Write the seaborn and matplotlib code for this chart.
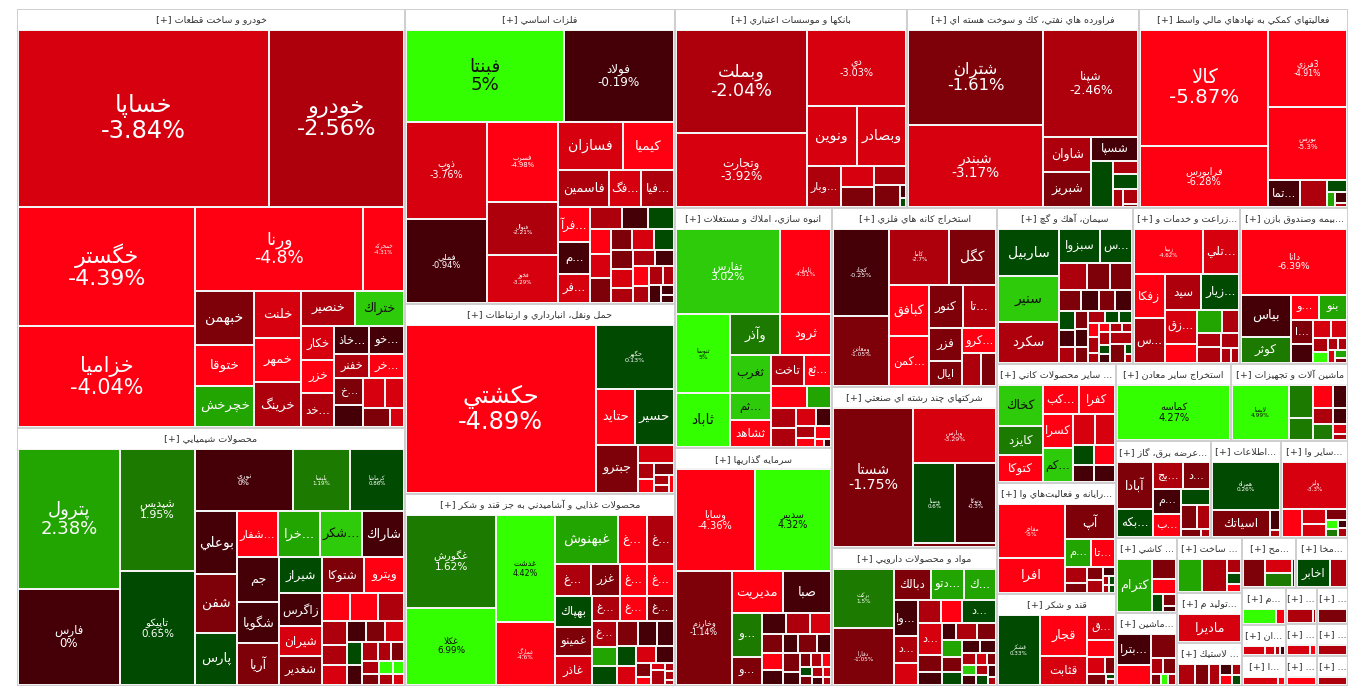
import re
import numpy as np
import matplotlib
matplotlib.use("Agg")
import matplotlib.pyplot as plt
from matplotlib.patches import Rectangle
import seaborn as sns

# ---------------- data: (نماد, اندازه بازار ~ مساحت, درصد تغيير) ----------------
khodro = [("خساپا", 44.0, -3.84), ("خودرو", 23.6, -2.56), ("خگستر", 21.0, -4.39), ("خزاميا", 17.7, -4.04),
          ("ورنا", 14.1, -4.8), ("خمحركه", 3.4, -4.31), ("خبهمن", 3.1, -1.52), ("ختوقا", 2.4, -4.6),
          ("خچرخش", 2.4, 2.6), ("خلنت", 2.2, -3.5), ("خمهر", 2.1, -4.4), ("خرينگ", 2.1, -2.4),
          ("خنصير", 1.86, -2.8), ("ختراك", 1.7, 3.6), ("خكار", 1.1, -3.4), ("خزر", 1.1, -4.5),
          ("خد...", 1.1, -2.7), ("خاذ...", 0.95, -0.6), ("خو...", 0.95, -0.4), ("خفنر", 0.85, -2.6),
          ("خر...", 0.85, -4.5), ("خ...", 0.76, -1.5), ("", 0.64, -0.5), ("", 0.62, -3.4),
          ("", 0.55, -3.4), ("", 0.51, -1.6), ("", 0.27, -3.5)]
shimi = [("پترول", 14.5, 2.38), ("فارس", 9.9, 0.0), ("شپديس", 9.3, 1.95), ("تاپيكو", 8.7, 0.65),
         ("نوري", 6.2, 0.0), ("پليسا", 3.65, 1.19), ("كرماشا", 3.4, 0.86), ("بوعلي", 2.67, -0.5),
         ("شفن", 2.54, -1.5), ("پارس", 2.24, 0.5), ("شفار...", 1.88, -4.5), ("خرا...", 1.97, 2.5),
         ("شكر...", 1.97, 3.6), ("شاراك", 1.93, -0.5), ("جم", 1.89, -0.5), ("شگويا", 1.76, -0.6),
         ("آريا", 1.76, -1.5), ("شيراز", 1.59, 0.5), ("شتوكا", 1.52, -1.5), ("ويترو", 1.48, -4.5),
         ("زاگرس", 1.42, -0.5), ("شيران", 1.33, -3.5), ("شغدير", 1.25, -1.5), ("", 0.78, -4.5),
         ("", 0.81, -4.5), ("", 0.73, -2.5), ("", 0.6, -2.5), ("", 0.52, -2.5), ("", 0.52, -3.2),
         ("", 0.4, -0.5), ("", 0.4, -1.5), ("", 0.4, -3.4), ("", 0.33, 0.5), ("", 0.3, -0.5),
         ("", 0.3, -2.5), ("", 0.26, -2.6), ("", 0.24, -1.5), ("", 0.22, -2.6), ("", 0.2, -1.5),
         ("", 0.18, 4.6), ("", 0.16, -2.6), ("", 0.15, 4.6), ("", 0.12, -3.3)]
felezat = [("فبنتا", 14.0, 5.0), ("فولاد", 9.8, -0.19), ("ذوب", 7.6, -3.76), ("فملي", 6.6, -0.94),
           ("فسرب", 5.6, -4.98), ("فنوال", 3.7, -2.21), ("فخوز", 3.3, -3.29), ("فسازان", 3.05, -3.4),
           ("كيميا", 2.4, -4.5), ("فاسمين", 1.8, -2.6), ("فگ...", 1.16, -3.5), ("فيا...", 1.16, -2.6),
           ("فرآ...", 1.05, -4.5), ("م...", 1.0, -0.5), ("فر...", 0.87, -3.2), ("", 0.68, -2.6),
           ("", 0.56, -0.6), ("", 0.54, 0.5), ("", 0.5, -4.5), ("", 0.5, -3.4), ("", 0.5, -1.5),
           ("", 0.45, -1.5), ("", 0.44, -3.4), ("", 0.42, 0.5), ("", 0.42, -1.5), ("", 0.4, -3.4),
           ("", 0.34, -2.6), ("", 0.34, -2.6), ("", 0.3, -0.5), ("", 0.3, -4.5), ("", 0.27, -2.6),
           ("", 0.25, -2.6), ("", 0.2, -2.6), ("", 0.2, -0.5), ("", 0.12, -0.5), ("", 0.1, -0.5)]
haml = [("حكشتي", 31.4, -4.89), ("حگهر", 4.9, 0.13), ("حتايد", 2.2, -4.5), ("حسير", 2.15, 0.5),
        ("جبترو", 2.0, -1.5), ("", 0.63, -3.4), ("", 0.27, -2.6), ("", 0.22, -4.5), ("", 0.24, -1.5),
        ("", 0.15, -2.6), ("", 0.12, -2.6), ("", 0.08, -4.5)]
ghaza = [("غگورش", 7.9, 1.62), ("غكلا", 6.6, 6.99), ("غدشت", 5.9, 4.42), ("غمارگ", 3.5, -4.6),
         ("غبهنوش", 2.9, 2.5), ("غ...", 1.35, -4.5), ("غ...", 1.25, -2.6), ("غ...", 1.1, -2.6),
         ("غزر", 0.9, -1.5), ("غ...", 0.82, -4.5), ("غ...", 0.82, -4.5), ("بهپاك", 1.08, 0.5),
         ("غمينو", 1.04, -1.5), ("غاذر", 1.0, -3.4), ("غ...", 0.67, -2.6), ("غ...", 0.65, -4.5),
         ("غ...", 0.65, -1.5), ("غ...", 0.63, -2.6), ("", 0.45, 2.5), ("", 0.47, 0.5), ("", 0.48, -1.5),
         ("", 0.46, -0.5), ("", 0.4, -0.5), ("", 0.36, 0.5), ("", 0.34, -3.4), ("", 0.31, -3.4),
         ("", 0.27, -0.5), ("", 0.2, -1.5), ("", 0.12, -4.5), ("", 0.1, -3.4), ("", 0.2, -2.6),
         ("", 0.07, -2.6), ("", 0.07, -2.6), ("", 0.04, -2.6)]
bank = [("وبملت", 13.2, -2.04), ("وتجارت", 9.4, -3.92), ("دي", 7.4, -3.03), ("ونوين", 2.95, -3.4),
        ("وبصادر", 2.85, -3.4), ("وبار...", 1.4, -2.6), ("", 0.7, -3.4), ("", 0.63, -1.5),
        ("", 0.6, -2.6), ("", 0.55, -1.5), ("", 0.08, -0.5), ("", 0.06, 0.5)]
naft = [("شتران", 12.6, -1.61), ("شبندر", 10.9, -3.17), ("شپنا", 9.9, -2.46), ("شاوان", 1.65, -2.6),
        ("شبريز", 1.65, -1.5), ("شسپا", 1.13, -0.5), ("", 0.97, 0.5), ("", 0.33, -2.6),
        ("", 0.35, 0.5), ("", 0.19, -2.6), ("", 0.22, -2.6), ("", 0.05, -1.5)]
mali = [("كالا", 14.3, -5.87), ("فرابورس", 7.6, -6.28), ("فرزي3", 5.9, -4.91), ("بورس", 5.5, -5.3),
        ("تما...", 0.85, -0.5), ("", 0.7, -2.6), ("", 0.25, 0.5), ("", 0.12, 2.5), ("", 0.12, -0.5),
        ("", 0.05, -2.6)]
anbooh = [("تفارس", 8.5, 3.02), ("ثامان", 4.2, -4.51), ("ثنوسا", 4.1, 5.0), ("ثاباد", 2.8, 4.5),
          ("وآذر", 1.95, 1.5), ("ثرود", 2.0, -4.5), ("ثغرب", 1.5, 3.6), ("ثم...", 1.05, 3.6),
          ("ثشاهد", 1.08, -4.3), ("تاخت", 1.0, -2.6), ("ثع...", 0.81, -4.5), ("", 0.75, -4.5),
          ("", 0.5, 2.5), ("", 0.5, -2.6), ("", 0.46, -2.6), ("", 0.34, -3.4), ("", 0.26, -0.5),
          ("", 0.22, -2.6), ("", 0.17, -4.5), ("", 0.2, -4.5), ("", 0.07, -4.5), ("", 0.06, -0.5)]
sarmaye = [("وسايا", 7.6, -4.36), ("سدبير", 7.4, 4.32), ("وخارزم", 6.1, -1.14), ("مديريت", 2.05, -4.5),
           ("صبا", 1.96, -0.5), ("و...", 1.23, 1.8), ("و...", 0.81, -1.3), ("", 0.48, -0.5),
           ("", 0.46, -2.6), ("", 0.42, -3.4), ("", 0.38, -1.5), ("", 0.32, -4.5), ("", 0.3, -0.5),
           ("", 0.27, -0.5), ("", 0.36, -1.5), ("", 0.25, -0.5), ("", 0.3, -1.5), ("", 0.22, -0.5),
           ("", 0.15, -1.5), ("", 0.14, -2.6), ("", 0.12, -4.5), ("", 0.11, 0.5), ("", 0.1, -1.5),
           ("", 0.1, -2.6), ("", 0.08, -0.5), ("", 0.08, -3.4), ("", 0.06, -2.6)]
kane = [("كچاد", 4.7, -0.25), ("ومعادن", 3.8, -1.05), ("كاما", 3.2, -2.7), ("كگل", 2.5, -1.5),
        ("كبافق", 1.95, -4.5), ("كمن...", 1.86, -4.5), ("كنور", 1.42, -1.5), ("تا...", 1.4, -2.6),
        ("فزر", 1.06, -1.5), ("ايال", 0.8, -1.5), ("كرو...", 0.82, -4.5), ("", 0.58, -2.6),
        ("", 0.48, -1.5)]
chand = [("شستا", 10.7, -1.75), ("وپارس", 4.4, -3.29), ("وصنا", 3.2, 0.6), ("وتوكا", 3.1, -0.3),
         ("", 0.3, -1.5)]
darou = [("بركت", 3.1, 1.5), ("دفارا", 3.0, -1.05), ("دبالك", 0.99, -1.5), ("دتو...", 0.88, 2.5),
         ("ك...", 0.86, 2.2), ("وا...", 0.75, -0.5), ("د...", 0.55, -2.6), ("", 0.46, -3.4),
         ("", 0.44, -2.6), ("", 0.42, -4.5), ("د...", 0.67, 0.5), ("د...", 0.67, -3.4), ("", 0.36, -1.5),
         ("", 0.28, -0.5), ("", 0.2, -0.5), ("", 0.3, -2.6), ("", 0.28, -1.5), ("", 0.3, 2.5),
         ("", 0.25, -1.5), ("", 0.22, 0.5), ("", 0.2, -0.5), ("", 0.18, -0.5), ("", 0.15, -2.6),
         ("", 0.12, 3.6), ("", 0.12, -0.5), ("", 0.12, -3.4), ("", 0.1, -1.5), ("", 0.1, -2.6),
         ("", 0.1, 0.5), ("", 0.08, -0.5), ("", 0.06, -2.6)]
siman = [("ساربيل", 2.7, 0.5), ("سنير", 2.6, 3.6), ("سكرد", 2.35, -2.6), ("سبزوا", 1.27, 0.5),
         ("س...", 1.0, 0.5), ("", 0.7, -2.6), ("", 0.6, -1.5), ("", 0.57, -1.5), ("", 0.42, -1.5),
         ("", 0.34, -0.5), ("", 0.32, -1.5), ("", 0.33, -0.5), ("", 0.27, 0.5), ("", 0.25, -0.5),
         ("", 0.23, -2.6), ("", 0.22, -1.5), ("", 0.22, -0.5), ("", 0.2, -1.5), ("", 0.18, -2.6),
         ("", 0.15, 0.5), ("", 0.14, 0.5), ("", 0.14, -4.5), ("", 0.15, -2.6), ("", 0.1, -2.6),
         ("", 0.1, -4.5), ("", 0.1, -2.6), ("", 0.09, -2.6), ("", 0.14, -2.6), ("", 0.1, 0.5),
         ("", 0.1, -0.5), ("", 0.25, -2.6), ("", 0.25, -1.5), ("", 0.07, 0.5), ("", 0.06, -2.6)]
zeraat = [("زبينا", 2.9, -4.62), ("تلي...", 1.5, -3.4), ("زفكا", 1.25, -4.5), ("س...", 1.28, -2.6),
          ("سيد", 1.22, -2.6), ("زيار...", 1.26, 0.5), ("زق...", 1.0, -3.4), ("", 0.57, -4.5),
          ("", 0.55, 2.5), ("", 0.37, -2.6), ("", 0.32, -2.6), ("", 0.35, -2.6), ("", 0.26, -2.6),
          ("", 0.14, -2.6), ("", 0.12, -2.6)]
bime = [("دانا", 6.4, -6.39), ("بياس", 1.9, -0.5), ("كوثر", 1.2, 1.5), ("و...", 0.67, -4.4),
        ("بنو", 0.65, 2.5), ("ا...", 0.5, -1.5), ("", 0.38, -0.5), ("", 0.29, -3.4), ("", 0.27, -3.4),
        ("", 0.2, -2.6), ("", 0.15, 4.6), ("", 0.12, -2.6), ("", 0.1, -2.6), ("", 0.08, -3.4),
        ("", 0.08, 2.5), ("", 0.06, -1.5)]
kani = [("كخاك", 1.75, 3.6), ("كايزد", 1.25, 1.5), ("كتوكا", 1.2, -4.5), ("كب...", 1.0, -4.5),
        ("كفرا", 1.0, -4.5), ("كسرا", 1.0, -4.5), ("كم...", 1.0, 3.6), ("", 0.65, -3.4),
        ("", 0.62, -3.4), ("", 0.4, 0.5), ("", 0.35, -0.5), ("", 0.4, -4.5), ("", 0.35, -0.5)]
rayane = [("مفاخر", 3.4, -5.0), ("افرا", 2.2, -4.5), ("آپ", 1.65, -1.5), ("م...", 0.67, 2.0),
          ("تا...", 0.63, -4.5), ("", 0.32, -2.6), ("", 0.22, -1.5), ("", 0.2, -1.5), ("", 0.2, -2.6),
          ("", 0.1, -0.5), ("", 0.05, -2.6), ("", 0.05, 0.5), ("", 0.05, -2.6), ("", 0.05, 0.5)]
ghand = [("قشكر", 2.7, 0.33), ("قجار", 1.8, -4.5), ("قثابت", 1.3, -3.4), ("ق...", 0.64, -3.4),
         ("", 0.45, -4.5), ("", 0.28, -3.4), ("", 0.15, -1.5), ("", 0.2, -1.5), ("", 0.05, 0.5),
         ("", 0.05, -2.6)]
madan = [("كماسه", 6.1, 4.27)]
mashin = [("لابسا", 2.9, 4.99), ("", 0.74, 1.5), ("", 0.5, 1.5), ("", 0.44, -4.5), ("", 0.3, -0.5),
          ("", 0.3, -2.6), ("", 0.32, 1.5), ("", 0.21, -0.5), ("", 0.12, -3.4), ("", 0.08, -2.6)]
bargh = [("آبادا", 1.5, -1.5), ("بكه...", 0.92, 0.5), ("بج...", 0.7, -2.6), ("د...", 0.65, -1.5),
         ("م...", 0.6, -0.5), ("ب...", 0.57, -4.5), ("", 0.41, 0.5), ("", 0.35, -1.5), ("", 0.27, -2.6),
         ("", 0.15, -1.5), ("", 0.07, -2.6)]
ettelaat = [("همراه", 3.0, 0.26), ("اسياتك", 1.43, -1.5), ("", 0.19, -0.5), ("", 0.07, -2.6)]
vaset = [("وليز", 2.7, -3.3), ("", 0.5, -4.5), ("", 0.32, -3.4), ("", 0.28, -3.4), ("", 0.2, -1.5),
         ("", 0.1, 4.6), ("", 0.08, 1.5), ("", 0.07, -0.5), ("", 0.07, -2.6)]
kashi = [("كترام", 1.8, 2.5), ("", 0.46, -1.5), ("", 0.34, -4.5), ("", 0.19, 0.5), ("", 0.15, -1.5),
         ("", 0.08, -0.5)]
barghi = [("بترا...", 0.99, -0.5), ("", 0.65, -4.5), ("", 0.58, -1.5), ("", 0.2, -2.6), ("", 0.2, -1.5),
          ("", 0.1, -1.5), ("", 0.08, 4.6), ("", 0.08, -2.6)]
felezi = [("", 0.78, 2.5), ("", 0.78, -2.6), ("", 0.2, -2.6), ("", 0.16, 0.5), ("", 0.11, -4.5)]
computer = [("ماديرا", 1.6, -3.4)]
lastik = [("", 0.28, -2.6), ("", 0.22, -1.5), ("", 0.18, -2.6), ("", 0.1, -0.5), ("", 0.1, -4.5),
          ("", 0.08, -2.6), ("", 0.08, 0.5)]
kaghaz = [("", 0.5, -1.5), ("", 0.3, -3.4), ("", 0.3, 1.5), ("", 0.08, -1.5)]
mokhaberat = [("اخابر", 0.86, 0.5), ("", 0.43, -2.6)]
nasaji = [("", 0.45, 4.6), ("", 0.12, -4.5)]
chap = [("", 0.16, -3.4), ("", 0.07, -3.4), ("", 0.04, -2.6), ("", 0.03, -0.5)]
gaz = [("", 0.2, -3.4), ("", 0.04, -4.5)]
hotel = [("", 0.38, -2.6), ("", 0.04, -2.6)]
charm = [("", 0.25, -1.5)]
fanni = [("", 0.17, -3.4), ("", 0.04, -4.5)]
dabbaghi = [("", 0.35, -2.6)]
abi = [("", 0.05, -4.0)]
ertebati = [("", 0.05, -2.6)]

sector_titles = ["خودرو و ساخت قطعات", "محصولات شيميايي", "فلزات اساسي", "حمل ونقل، انبارداري و ارتباطات",
                 "محصولات غذايي و آشاميدني به جز قند و شكر", "بانكها و موسسات اعتباري",
                 "فراورده هاي نفتي، كك و سوخت هسته اي", "فعاليتهاي كمكي به نهادهاي مالي واسط",
                 "انبوه سازي، املاك و مستغلات", "سرمايه گذاريها", "استخراج كانه هاي فلزي",
                 "شركتهاي چند رشته اي صنعتي", "مواد و محصولات دارويي", "سيمان، آهك و گچ",
                 "زراعت و خدمات وابسته", "بيمه وصندوق بازنشستگي به جزتامين اجتماعي",
                 "ساير محصولات كاني غيرفلزي", "رايانه و فعاليت\u200cهاي وابسته به آن", "قند و شكر",
                 "استخراج ساير معادن", "ماشين آلات و تجهيزات", "عرضه برق، گاز، بخاروآب گرم",
                 "اطلاعات و ارتباطات", "ساير واسطه گريهاي مالي", "كاشي و سراميك",
                 "ماشين آلات و دستگاههاي برقي", "ساخت محصولات فلزي",
                 "توليد محصولات كامپيوتري الكترونيكي ونوري", "لاستيك و پلاستيك", "محصولات كاغذي",
                 "مخابرات", "منسوجات", "انتشار، چاپ و تكثير", "استخراج نفت گاز و خدمات جنبي",
                 "هتل و رستوران", "محصولات چرمي", "خدمات فني و مهندسي", "دباغي، پرداخت چرم",
                 "حمل و نقل آبي", "وسايل ارتباطي"]
sector_sizes = [162.6, 100.1, 79.65, 51.3, 51.84, 46.2, 46.2, 41.6, 37.7, 37.4, 29.5, 26.6, 22.8,
                21.2, 16.7, 16.8, 14.2, 13.2, 10.9, 8.9, 9.0, 9.2, 6.8, 6.5, 4.6, 4.45, 3.6, 3.25,
                2.8, 2.7, 2.6, 1.6, 1.33, 1.29, 1.1, 1.1, 1.0, 1.0, 0.95, 0.95]
sector_stocks = [khodro, shimi, felezat, haml, ghaza, bank, naft, mali, anbooh, sarmaye, kane, chand,
                 darou, siman, zeraat, bime, kani, rayane, ghand, madan, mashin, bargh, ettelaat, vaset,
                 kashi, barghi, felezi, computer, lastik, kaghaz, mokhaberat, nasaji, chap, gaz, hotel,
                 charm, fanni, dabbaghi, abi, ertebati]

reds = sns.color_palette(["#440006", "#7e0008", "#ad000c", "#d6000f", "#ff0012"])
greens = sns.color_palette(["#014a01", "#1d7a00", "#23a501", "#2ecb0a", "#33ff00"])

# ---------------- persian shaping (presentation forms) ----------------
FORMS = {
    'ا': ('\uFE8D', '\uFE8E', None, None), 'آ': ('\uFE81', '\uFE82', None, None),
    'أ': ('\uFE83', '\uFE84', None, None), 'ب': ('\uFE8F', '\uFE90', '\uFE91', '\uFE92'),
    'پ': ('\uFB56', '\uFB57', '\uFB58', '\uFB59'), 'ت': ('\uFE95', '\uFE96', '\uFE97', '\uFE98'),
    'ث': ('\uFE99', '\uFE9A', '\uFE9B', '\uFE9C'), 'ج': ('\uFE9D', '\uFE9E', '\uFE9F', '\uFEA0'),
    'چ': ('\uFB7A', '\uFB7B', '\uFB7C', '\uFB7D'), 'ح': ('\uFEA1', '\uFEA2', '\uFEA3', '\uFEA4'),
    'خ': ('\uFEA5', '\uFEA6', '\uFEA7', '\uFEA8'), 'د': ('\uFEA9', '\uFEAA', None, None),
    'ذ': ('\uFEAB', '\uFEAC', None, None), 'ر': ('\uFEAD', '\uFEAE', None, None),
    'ز': ('\uFEAF', '\uFEB0', None, None), 'ژ': ('\uFB8A', '\uFB8B', None, None),
    'س': ('\uFEB1', '\uFEB2', '\uFEB3', '\uFEB4'), 'ش': ('\uFEB5', '\uFEB6', '\uFEB7', '\uFEB8'),
    'ص': ('\uFEB9', '\uFEBA', '\uFEBB', '\uFEBC'), 'ض': ('\uFEBD', '\uFEBE', '\uFEBF', '\uFEC0'),
    'ط': ('\uFEC1', '\uFEC2', '\uFEC3', '\uFEC4'), 'ظ': ('\uFEC5', '\uFEC6', '\uFEC7', '\uFEC8'),
    'ع': ('\uFEC9', '\uFECA', '\uFECB', '\uFECC'), 'غ': ('\uFECD', '\uFECE', '\uFECF', '\uFED0'),
    'ف': ('\uFED1', '\uFED2', '\uFED3', '\uFED4'), 'ق': ('\uFED5', '\uFED6', '\uFED7', '\uFED8'),
    'ك': ('\uFED9', '\uFEDA', '\uFEDB', '\uFEDC'), 'گ': ('\uFB92', '\uFB93', '\uFB94', '\uFB95'),
    'ل': ('\uFEDD', '\uFEDE', '\uFEDF', '\uFEE0'), 'م': ('\uFEE1', '\uFEE2', '\uFEE3', '\uFEE4'),
    'ن': ('\uFEE5', '\uFEE6', '\uFEE7', '\uFEE8'), 'ه': ('\uFEE9', '\uFEEA', '\uFEEB', '\uFEEC'),
    'و': ('\uFEED', '\uFEEE', None, None), 'ي': ('\uFEF1', '\uFEF2', '\uFEF3', '\uFEF4'),
}
LAM_ALEF = {'ا': ('\uFEFB', '\uFEFC'), 'آ': ('\uFEF5', '\uFEF6'), 'أ': ('\uFEF7', '\uFEF8')}


def shape(s):
    out, prev_join, i = [], False, 0
    while i < len(s):
        c = s[i]
        nxt = s[i + 1] if i + 1 < len(s) else ''
        if c == 'ل' and nxt in LAM_ALEF:
            out.append(LAM_ALEF[nxt][1 if prev_join else 0])
            prev_join = False
            i += 2
            continue
        if c not in FORMS:
            if c != '\u200c':
                out.append(c)
            prev_join = False
            i += 1
            continue
        f = FORMS[c]
        dual = f[2] is not None
        join_next = dual and nxt in FORMS
        if prev_join and join_next:
            g = f[3]
        elif prev_join:
            g = f[1]
        elif join_next:
            g = f[2]
        else:
            g = f[0]
        out.append(g)
        prev_join = dual
        i += 1
    return ''.join(out)


LTR = r'[0-9A-Za-z.%+\-\[\]]'


def visual(s):
    out = []
    for run in re.findall(LTR + '+|[^0-9A-Za-z.%+\\-\\[\\]]+', shape(s)):
        if re.match(LTR, run):
            out.append(run)
        else:
            core = run.strip(' ')
            lead = run[:len(run) - len(run.lstrip(' '))]
            trail = run[len(run.rstrip(' ')):]
            out.append(lead + core[::-1] + trail)
    return ''.join(out)


def squarify(vals, x0, y0, x1, y1):
    rects, value, i0, n = [], float(sum(vals)), 0, len(vals)
    while i0 < n:
        dx, dy = x1 - x0, y1 - y0
        i1 = i0 + 1
        s = mn = mx = vals[i0]
        alpha = max(dy / dx, dx / dy) / value
        beta = s * s * alpha
        best = max(mx / beta, beta / mn)
        while i1 < n:
            v = vals[i1]
            s2, mn2, mx2 = s + v, min(mn, v), max(mx, v)
            beta = s2 * s2 * alpha
            r = max(mx2 / beta, beta / mn2)
            if r > best:
                break
            s, mn, mx, best = s2, mn2, mx2, r
            i1 += 1
        row = vals[i0:i1]
        if dx < dy:
            h = dy * s / value
            xx = x0
            for v in row:
                w = dx * v / s
                rects.append((xx, y0, xx + w, y0 + h))
                xx += w
            y0 += h
        else:
            w = dx * s / value
            yy = y0
            for v in row:
                h = dy * v / s
                rects.append((x0, yy, x0 + w, yy + h))
                yy += h
            x0 += w
        value -= s
        i0 = i1
    return rects


def cell_color(p):
    if p > 0:
        return greens[min(int(p), 4)]
    return reds[min(int(-p), 4)]


sns.set_theme(style="white")
plt.rcParams['font.family'] = ['DejaVu Sans']

fig = plt.figure(figsize=(13.66, 6.98), dpi=100)
ax = fig.add_axes([0, 0, 1, 1])
ax.set_xlim(0, 1366)
ax.set_ylim(698, 0)
ax.axis('off')
renderer = fig.canvas.get_renderer()

MAP = (17, 9, 1348, 686)
HDR = 21
ax.add_patch(Rectangle((MAP[0], MAP[1]), MAP[2] - MAP[0], MAP[3] - MAP[1], fc='#cfcfcf', lw=0))


def fits(t, w, h):
    bb = t.get_window_extent(renderer=renderer)
    return bb.width <= w and bb.height <= h


for title, stocks, size_sec, (x0, y0, x1, y1) in zip(sector_titles, sector_stocks, sector_sizes,
                                                     squarify(sector_sizes, *MAP)):
    ax.add_patch(Rectangle((x0 + 1, y0 + 1), x1 - x0 - 2, y1 - y0 - 2, fc='#f3f3f3', lw=0))
    hh = min(HDR - 1.5, y1 - y0 - 2)
    ax.add_patch(Rectangle((x0 + 1, y0 + 1), x1 - x0 - 2, hh, fc='white', lw=0))
    t = ax.text((x0 + x1) / 2, y0 + 1 + hh / 2, '[+] ' + visual(title), ha='center', va='center',
                fontsize=6.8, color='#333333')
    if not fits(t, x1 - x0 - 6, 100):
        for k in range(len(title) - 1, -1, -1):
            t.set_text('[+] ' + visual(title[:k]) + '...')
            if fits(t, x1 - x0 - 6, 100):
                break

    ix0, iy0, ix1, iy1 = x0 + 1, y0 + HDR, x1 - 1, y1 - 1
    if iy1 - iy0 < 1:
        continue
    total = sum(s[1] for s in stocks)
    cells = squarify([s[1] for s in stocks], ix0, iy0, ix1, iy1)
    for (name, size, pct), (a0, b0, a1, b1) in zip(stocks, cells):
        w, h = a1 - a0 - 2, b1 - b0 - 2
        if w <= 0 or h <= 0:
            continue
        ax.add_patch(Rectangle((a0 + 1, b0 + 1), w, h, fc=cell_color(pct), lw=0))
        if not name:
            continue
        v = size / total * size_sec
        tc = '#111111' if pct >= 3.3 else 'white'
        if v >= 3.6:
            fs = np.interp(v, [3.6, 6.0, 7.5, 9.0, 11.0, 13.0, 15.0, 17.0, 22.0, 35.0],
                           [5.5, 6.5, 8.5, 10.0, 12.0, 14.0, 17.0, 20.0, 22.0, 24.0])
            txt = visual(name) + '\n' + f'{pct:g}%'
        else:
            fs = float(np.clip(10.5 + (a1 - a0) * (b1 - b0) / 1000 * 1.2, 11, 14))
            txt = visual(name)
        t = ax.text((a0 + a1) / 2, (b0 + b1) / 2, txt, ha='center', va='center', color=tc,
                    fontsize=fs * 0.72, linespacing=1.05)
        while not fits(t, w - 2, h):
            fs *= 0.9
            if fs < 4:
                t.remove()
                break
            t.set_fontsize(fs * 0.72)

fig.savefig('out.png', dpi=100)
